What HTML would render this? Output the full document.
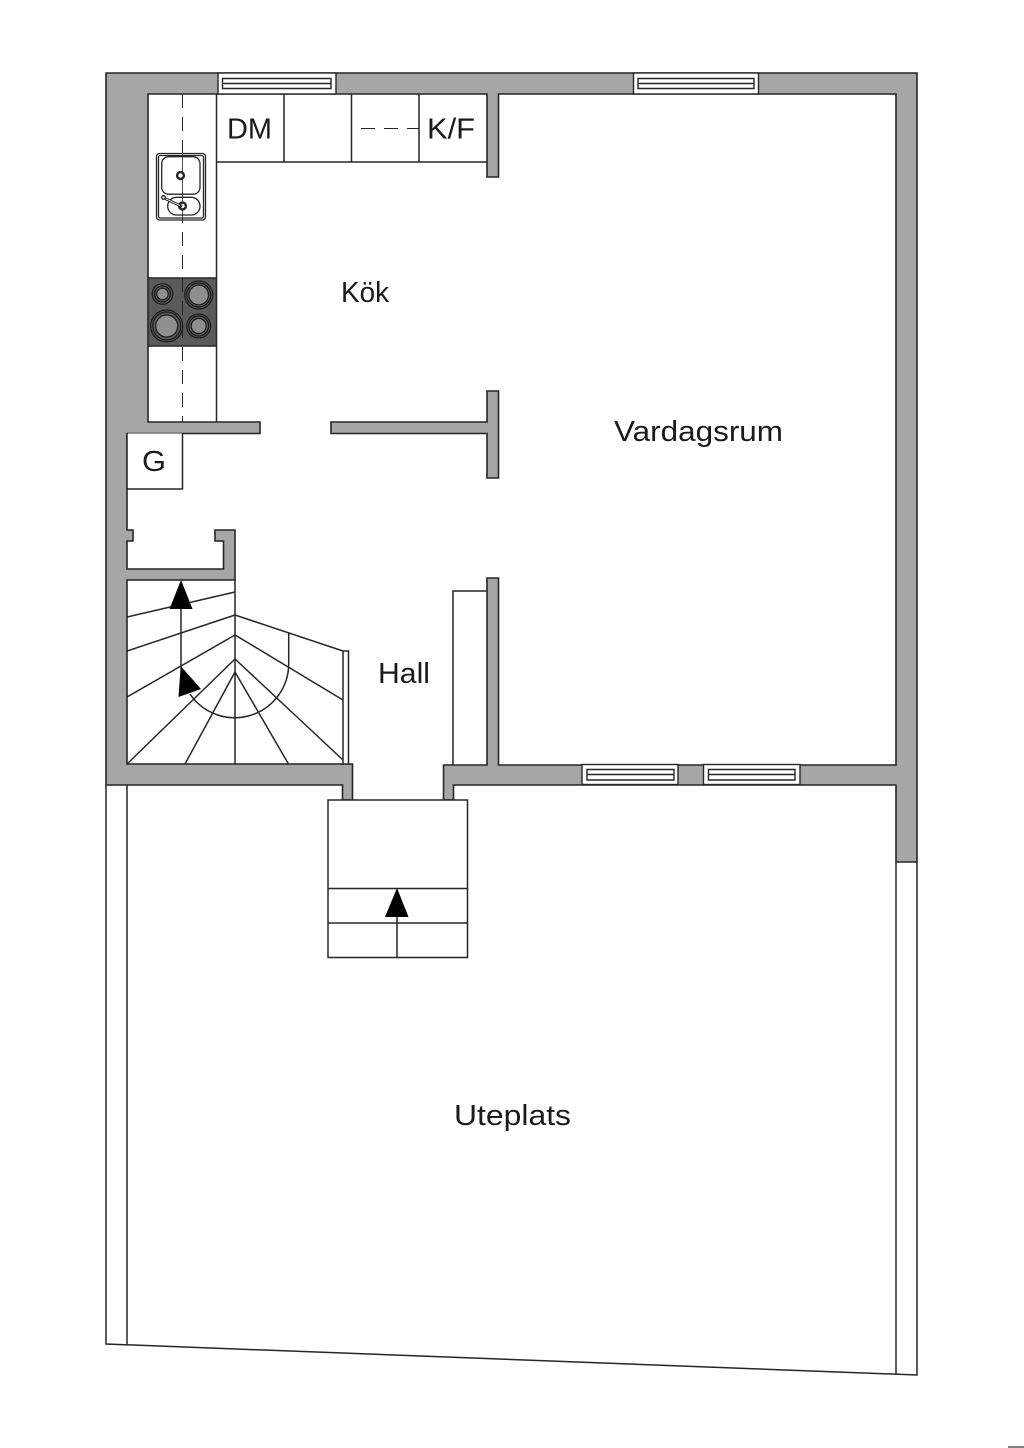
<!DOCTYPE html>
<html>
<head>
<meta charset="utf-8">
<style>
html,body{margin:0;padding:0;background:#fff;}
svg{display:block;}
text{font-family:"Liberation Sans",sans-serif;fill:#1a1a1a;}
</style>
</head>
<body>
<svg xmlns="http://www.w3.org/2000/svg" width="1024" height="1448" viewBox="0 0 1024 1448">
<rect width="1024" height="1448" fill="#fff"/>

<!-- hob -->
<rect x="148" y="278" width="68.500" height="68" fill="#5a5a5a"/>

<!-- walls -->
<g fill="#a6a6a6" stroke="#262626" stroke-width="1.600" stroke-linejoin="miter">
<path d="M106,73 H917 V862 H896 V785 H453.500 V800 H443.500 V765 H487 V578 H498.500 V765 H896 V94 H498.500 V177 H487 V94 H148 V422 H260 V433.500 H127 V530 H133 V541 H127 V569 H223.500 V541 H215 V530 H235 V580 H127 V764 H352.500 V800 H342.500 V785 H106 Z"/>
<path d="M331,422 H487 V391 H498.500 V478 H487 V433.500 H331 Z"/>
</g>

<g fill="none" stroke="#262626" stroke-width="1.500">
<!-- terrace -->
<path d="M106,785 V1344 L917,1375 V862"/>
<path d="M127,785 V1345"/>
<path d="M896,862 V1374"/>

<!-- kitchen counters -->
<path d="M216.500,94 V422"/>
<path d="M148,278 H216.500 M148,346 H216.500"/>
<path d="M216.500,162 H487"/>
<path d="M284,94 V162 M351.500,94 V162 M419,94 V162"/>
<path d="M182.500,94 V422" stroke-dasharray="14 9" stroke-width="1"/>
<path d="M361,128.500 H419" stroke-dasharray="14 9" stroke-width="1"/>

<!-- G box -->
<path d="M127,433.500 V489 H182.500 V433.500" fill="#fff"/>

<!-- closet -->
<path d="M487,591 H453 V765"/>

<!-- entry steps -->
<rect x="328" y="800" width="139.500" height="157.500" fill="#fff"/>
<path d="M328,888.500 H467.500 M328,923 H467.500 M397,915 V957.500"/>

<!-- stair -->
<path d="M235,580 V764"/>
<path d="M127,617 L235,592 M127,651 L235,615 M127,697 L235,635 M127,764 L235,659 M185,764 L235,672"/>
<path d="M235,672 L288.500,764 M235,659 L343,760 M235,635 L343,700 M235,615 L343,651"/>
<path d="M343,651 H348.500 V765 M343,651 V765"/>
<path d="M288.700,633 V664 A54,54 0 0 1 190,694"/>
<path d="M181,600 V668"/>
</g>

<!-- windows -->
<g fill="#fff" stroke="#262626" stroke-width="1.400">
<rect x="218" y="73" width="118" height="21"/>
<rect x="633.500" y="73" width="125" height="21"/>
<rect x="582" y="764.500" width="96" height="20"/>
<rect x="703.500" y="764.500" width="96.500" height="20"/>
<path fill="none" d="M222.500,78.500 H331 V88.500 H222.500 Z M222.500,83.500 H331"/>
<path fill="none" d="M638,78.500 H754 V88.500 H638 Z M638,83.500 H754"/>
<path fill="none" d="M587,769.500 H674 V780 H587 Z M587,774.500 H674"/>
<path fill="none" d="M708.500,769.500 H795 V780 H708.500 Z M708.500,774.500 H795"/>
</g>

<!-- sink -->
<g fill="#fff" stroke="#262626" stroke-width="1.300">
<rect x="156.500" y="153.500" width="49" height="66.500" rx="3"/>
<rect x="158.500" y="155.500" width="45" height="62.500" rx="2"/>
<rect x="161.700" y="156.700" width="38.300" height="37.500" rx="7"/>
<rect x="167.700" y="197.300" width="32.300" height="17.700" rx="8.800"/>
<path d="M182.500,153.500 V220" stroke-width="0.800"/>
<circle cx="180.500" cy="175.500" r="3.400" stroke-width="2.400"/>
<circle cx="182.500" cy="206" r="3.400" stroke-width="2.400"/>
<path d="M164,198 L182,206.500" stroke-width="2.800" stroke="#262626"/>
<path d="M164,198 L180,205.500" stroke-width="0.800" stroke="#fff"/>
<circle cx="163.500" cy="197.500" r="1.800"/>
</g>

<!-- hob burners -->
<g stroke="#1c1c1c" stroke-width="1.200" fill="#5a5a5a">
<circle cx="162.500" cy="294" r="10.300"/><circle cx="162.500" cy="294" r="8"/><circle cx="162.500" cy="294" r="5.800" fill="#8f8f8f"/>
<circle cx="198.700" cy="295" r="14"/><circle cx="198.700" cy="295" r="12"/><circle cx="198.700" cy="295" r="9.800" fill="#8f8f8f"/>
<circle cx="166.700" cy="326" r="16"/><circle cx="166.700" cy="326" r="14"/><circle cx="166.700" cy="326" r="11" fill="#8f8f8f"/>
<circle cx="198.700" cy="326" r="12"/><circle cx="198.700" cy="326" r="10"/><circle cx="198.700" cy="326" r="7.500" fill="#8f8f8f"/>
</g>

<!-- arrowheads -->
<g fill="#000">
<path d="M181,580 L192.500,609 H169.500 Z"/>
<path d="M180.700,666 L201,689 L178.500,697 Z"/>
<path d="M397,888 L408.500,917 H385 Z"/>
</g>

<!-- labels -->
<g font-size="29">
<text x="341" y="302" textLength="48" lengthAdjust="spacingAndGlyphs">Kök</text>
<text x="614" y="441" textLength="169" lengthAdjust="spacingAndGlyphs">Vardagsrum</text>
<text x="378" y="683" textLength="52" lengthAdjust="spacingAndGlyphs">Hall</text>
<text x="454" y="1125" textLength="117" lengthAdjust="spacingAndGlyphs">Uteplats</text>
<text x="227" y="138.500" textLength="45" lengthAdjust="spacingAndGlyphs">DM</text>
<text x="427" y="138.500" textLength="48" lengthAdjust="spacingAndGlyphs">K/F</text>
<text x="142" y="471" textLength="24" lengthAdjust="spacingAndGlyphs">G</text>
</g>

<!-- corner mark -->
<rect x="1008" y="1446" width="16" height="2" fill="#808080"/>
</svg>
</body>
</html>
